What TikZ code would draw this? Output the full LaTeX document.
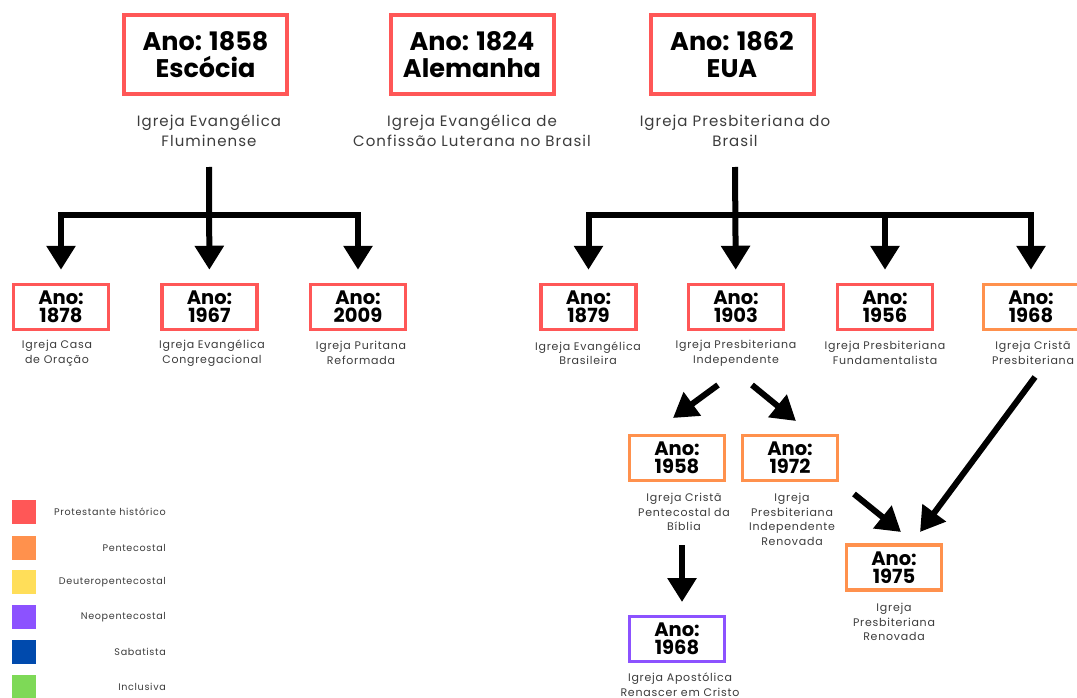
\documentclass[tikz,border=0pt]{standalone}
\usepackage{fontspec}
\setmainfont{Poppins}
\newfontfamily\labfont[LetterSpace=7]{Poppins}
\usetikzlibrary{arrows.meta,calc}
\definecolor{cred}{HTML}{FF5757}
\definecolor{corange}{HTML}{FF914D}
\definecolor{cyellow}{HTML}{FFDE59}
\definecolor{cpurple}{HTML}{8C52FF}
\definecolor{cblue}{HTML}{004AAD}
\definecolor{cgreen}{HTML}{7ED957}
\definecolor{labgray}{HTML}{3C3C3C}
\begin{document}
\begin{tikzpicture}[x=1pt,y=-1pt,
  bigbox/.style={draw=cred, line width=4pt, minimum width=163pt, minimum height=79pt, align=center, inner sep=0pt,
    font=\fontsize{25.5}{27}\selectfont\bfseries},
  smallbox/.style={draw=#1, line width=3.5pt, minimum width=95pt, minimum height=45pt, align=center, inner sep=0pt,
    font=\fontsize{19.5}{18}\selectfont\bfseries},
  smallbox/.default=cred,
  toplab/.style={align=center, text=labgray, inner sep=0pt, font=\labfont\fontsize{15}{20}\selectfont},
  lab/.style={align=center, text=labgray, inner sep=0pt, font=\labfont\fontsize{11}{14.5}\selectfont},
  leglab/.style={anchor=east, text=labgray, inner sep=0pt, font=\labfont\fontsize{9.6}{10}\selectfont},
  legsq/.style={fill=#1, minimum size=24pt, inner sep=0pt},
  conn/.style={line width=6pt, line join=miter, -{Triangle[width=28pt,length=24pt]}},
  barline/.style={line width=6pt}
]
\useasboundingbox (0,0) rectangle (1077,698);
\fill[white] (0,0) rectangle (1077,698);

% top boxes
\node[bigbox] (t1) at (205.5,55) {Ano: 1858\\Escócia};
\node[bigbox] (t2) at (472,55) {Ano: 1824\\Alemanha};
\node[bigbox] (t3) at (732,55) {Ano: 1862\\EUA};
\node[toplab] (tl1) at (209,131) {Igreja Evangélica\\Fluminense};
\node[toplab] (tl2) at (472,131) {Igreja Evangélica de\\Confissão Luterana no Brasil};
\node[toplab] (tl3) at (735,131) {Igreja Presbiteriana do\\Brasil};

% second row
\node[smallbox] (b11) at (61,307) {Ano:\\1878};
\node[smallbox] (b12) at (209.5,307) {Ano:\\1967};
\node[smallbox] (b13) at (358,307) {Ano:\\2009};
\node[lab] (l11) at (57,353) {Igreja Casa\\de Oração};
\node[lab] (l12) at (212,353) {Igreja Evangélica\\Congregacional};
\node[lab] (l13) at (361,353) {Igreja Puritana\\Reformada};

\node[smallbox] (b21) at (588.5,307) {Ano:\\1879};
\node[smallbox] (b22) at (736,307) {Ano:\\1903};
\node[smallbox] (b23) at (885,307) {Ano:\\1956};
\node[smallbox=corange] (b24) at (1031,307) {Ano:\\1968};
\node[lab] (l21) at (588,353) {Igreja Evangélica\\Brasileira};
\node[lab] (l22) at (736,353) {Igreja Presbiteriana\\Independente};
\node[lab] (l23) at (885,353) {Igreja Presbiteriana\\Fundamentalista};
\node[lab] (l24) at (1033,353) {Igreja Cristã\\Presbiteriana};

% third row
\node[smallbox=corange] (b31) at (677,458) {Ano:\\1958};
\node[smallbox=corange] (b32) at (790,458) {Ano:\\1972};
\node[lab] (l31) at (684,512) {Igreja Cristã\\Pentecostal da\\Bíblia};
\node[lab] (l32) at (792,519.5) {Igreja\\Presbiteriana\\Independente\\Renovada};
\node[smallbox=corange] (b33) at (894,567.5) {Ano:\\1975};
\node[lab] (l33) at (894,622) {Igreja\\Presbiteriana\\Renovada};
\node[smallbox=cpurple] (b41) at (677,639) {Ano:\\1968};
\node[lab] (l41) at (680,684.5) {Igreja Apostólica\\Renascer em Cristo};

% tree connectors left
\coordinate (s1) at (209,167);
\coordinate (j1) at (209,215);
\draw[conn, shorten >=13pt] (s1) -- (b12);
\draw[conn, shorten >=13pt] (j1) -| (b11);
\draw[conn, shorten >=13pt] (j1) -| (b13);

% tree connectors right
\coordinate (s2) at (735,167);
\coordinate (j2) at (735,215);
\draw[conn, shorten >=13pt] (s2) -- (b22);
\draw[conn, shorten >=13pt] (j2) -| (b21);
\draw[conn, shorten >=13pt] (j2) -| (b23);
\draw[conn, shorten >=13pt] (j2) -| (b24);

% diagonal arrows
\coordinate (d1s) at (718,385);
\coordinate (d1e) at (673,418);
\coordinate (d2s) at (752,385);
\coordinate (d2e) at (796,421);
\coordinate (d3s) at (854,494);
\coordinate (d3e) at (901,532);
\coordinate (d4s) at (1035,377);
\coordinate (d4e) at (920,532);
\coordinate (d5s) at (682,545);
\coordinate (d5e) at (682,602);
\draw[conn] (d1s) -- (d1e);
\draw[conn] (d2s) -- (d2e);
\draw[conn] (d3s) -- (d3e);
\draw[conn] (d4s) -- (d4e);
\draw[conn] (d5s) -- (d5e);

% legend
\node[legsq=cred] (q1) at (24,512) {};
\node[legsq=corange] (q2) at (24,548) {};
\node[legsq=cyellow] (q3) at (24,582) {};
\node[legsq=cpurple] (q4) at (24,617) {};
\node[legsq=cblue] (q5) at (24,652) {};
\node[legsq=cgreen] (q6) at (24,687) {};
\node[leglab] (g1) at (166,512) {Protestante histórico};
\node[leglab] (g2) at (166,548) {Pentecostal};
\node[leglab] (g3) at (166,582) {Deuteropentecostal};
\node[leglab] (g4) at (166,617) {Neopentecostal};
\node[leglab] (g5) at (166,652) {Sabatista};
\node[leglab] (g6) at (166,687) {Inclusiva};
\end{tikzpicture}
\end{document}
